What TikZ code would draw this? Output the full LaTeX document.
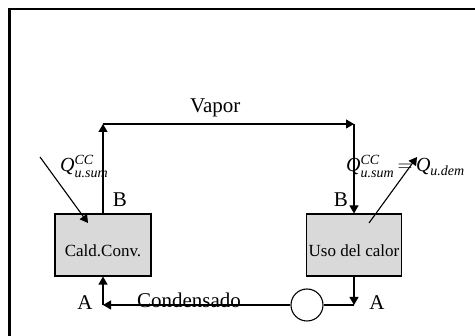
\documentclass[tikz,border=0pt]{standalone}
\usepackage{amsmath}
\usepackage{fontspec}
\setmainfont{Liberation Serif}
\usetikzlibrary{arrows.meta}
\tikzset{
  flow/.style={line width=1.1pt, -{Triangle[length=8pt,width=9pt]}},
  plain/.style={line width=1.1pt},
  unitbox/.style={draw, line width=1.1pt, fill=gray!30, minimum width=96pt, minimum height=62pt, inner sep=0pt, font=\fontsize{17}{20}\selectfont, text height=24pt, text depth=0pt},
  lbl/.style={font=\fontsize{21}{25}\selectfont, inner sep=0pt, anchor=base},
  qlbl/.style={font=\fontsize{20}{24}\selectfont, inner sep=0pt, anchor=base west},
}
\begin{document}
\begin{tikzpicture}[x=1pt,y=-1pt]
\useasboundingbox (0,0) rectangle (475,336);
% frame
\draw[line width=2.6pt] (9.5,336) -- (9.5,9) -- (476,9);
% units
\node[unitbox] (cald) at (103,245) {Cald.Conv.};
\node[unitbox, minimum width=95pt] (uso) at (354,245) {Uso del calor};
\node[draw, circle, line width=1.1pt, minimum size=32pt, inner sep=0pt] (pump) at (307,305) {};
% corners
\coordinate (vl) at (103,124);
\coordinate (vr) at (354,124);
\coordinate (cr) at (354,305);
\coordinate (cl) at (103,305);
\coordinate (qinS) at (40,157);
\coordinate (qinE) at (88,223);
\coordinate (qoutS) at (369,223);
\coordinate (qoutE) at (417,157);
% connectors
\draw[flow] (cald.north) -- (vl);
\draw[flow] (vl) -- (vr);
\draw[flow] (vr) -- (uso.north);
\draw[flow] (uso.south) -- (cr);
\draw[plain] (cr) -- (pump.east);
\draw[flow] (pump.west) -- (cl);
\draw[flow] (cl) -- (cald.south);
% labels
\node[lbl, anchor=base west] (vap) at (190,113) {Vapor};
\node[lbl] (cond) at (189,308) {Condensado};
\node[lbl] (bl) at (120,207) {B};
\node[lbl] (br) at (341,207) {B};
\node[lbl] (al) at (85,310) {A};
\node[lbl] (ar) at (377,310) {A};
\node[qlbl] (ql) at (60,172) {$\textit{Q}^{\textit{CC}}_{\textit{u.sum}}$};
\node[qlbl] (qr) at (346,172) {$\textit{Q}^{\textit{CC}}_{\textit{u.sum}}\mskip3mu{=}\mskip3mu\textit{Q}_{\textit{u.dem}}$};
% heat arrows
\draw[flow] (qinS) -- (qinE);
\draw[flow] (qoutS) -- (qoutE);
\end{tikzpicture}
\end{document}
